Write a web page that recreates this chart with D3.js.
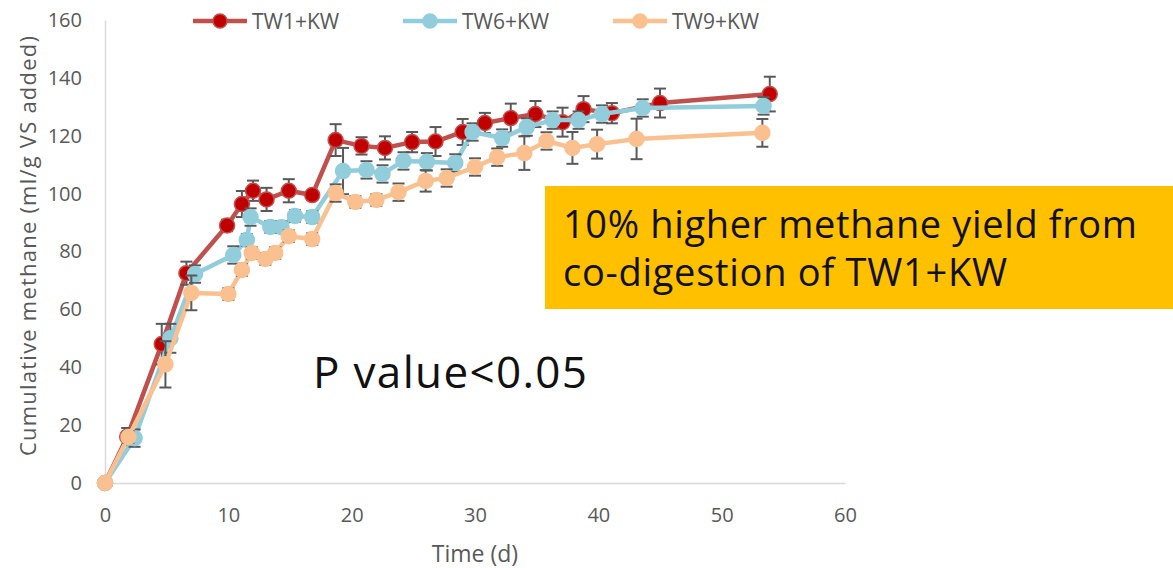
<!DOCTYPE html>
<html>
<head>
<meta charset="utf-8">
<script src="https://cdn.jsdelivr.net/npm/d3@7"></script>
<style>
  body { margin: 0; background: #fff; }
  svg { display: block; }
</style>
</head>
<body>
<svg width="1173" height="568"></svg>
<script>
// series names and colours
let seriesNames = ["TW1+KW", "TW6+KW", "TW9+KW"];

// days, cumulative methane (ml/g VS added) and standard error
let tw1Days = [0, 1.8, 4.6, 6.6, 9.9, 11.1, 12.0, 13.1, 14.9, 16.8, 18.7, 20.8, 22.7, 24.9, 26.8, 29.0, 30.8, 32.9, 34.9, 37.1, 38.8, 41.1, 45.0, 53.9];
let tw1Vals = [0, 16, 48, 72.5, 89, 96.4, 101, 98, 101, 99.5, 118.5, 116.5, 115.8, 117.8, 118, 121.3, 124.4, 126.1, 127.5, 124.7, 129.2, 127.8, 131.3, 134.4];
let tw1Err  = [0, 3, 7, 4, 2, 4.5, 3.5, 4, 4, 1.5, 5.5, 3, 4, 3.5, 5, 4.5, 3.5, 5, 4.5, 5, 4.5, 3.5, 5, 6];

let tw6Days = [0, 2.4, 5.3, 7.3, 10.4, 11.5, 11.8, 13.4, 14.3, 15.4, 16.8, 19.3, 21.2, 22.5, 24.2, 26.1, 28.4, 29.8, 32.2, 34.2, 36.3, 38.4, 40.3, 43.6, 53.4];
let tw6Vals = [0, 15.5, 50, 72.2, 78.8, 84, 91.9, 88.5, 88.4, 92.3, 91.9, 107.8, 108.2, 106.8, 111.3, 111, 110.6, 121.3, 119.2, 123, 125.4, 125.4, 127.5, 129.6, 130.3];
let tw6Err  = [0, 3, 5, 3, 3, 2, 3, 2, 2, 2, 2, 8, 3, 3, 3, 3, 3, 3, 3, 3, 3, 3, 3, 3, 3];

let tw9Days = [0, 1.9, 4.9, 7.0, 10.0, 11.1, 11.9, 13.0, 13.8, 14.9, 16.8, 18.7, 20.3, 22.0, 23.8, 26.0, 27.7, 30.0, 31.8, 34.0, 35.8, 37.9, 39.9, 43.1, 53.3];
let tw9Vals = [0, 15.9, 41, 65.7, 65.3, 73.6, 79.5, 77.4, 79.5, 85.3, 84.3, 100.2, 97.1, 97.8, 100.5, 104.4, 105.4, 109.2, 112.6, 114, 118.2, 115.8, 117.1, 118.9, 121];
let tw9Err  = [0, 2, 8, 6, 2, 2, 2, 2, 2, 2, 2, 3, 2, 2, 3, 3.7, 3, 3, 3, 5.8, 3, 5.5, 5, 7, 4.8];

let xTicks = [0, 10, 20, 30, 40, 50, 60];
let yTicks = [0, 20, 40, 60, 80, 100, 120, 140, 160];

let series = [
  {name: seriesNames[0], line: "#C0504D", fill: "#C00000", stroke: "#C0504D", days: tw1Days, vals: tw1Vals, err: tw1Err},
  {name: seriesNames[1], line: "#92CDDC", fill: "#92CDDC", stroke: "#92CDDC", days: tw6Days, vals: tw6Vals, err: tw6Err},
  {name: seriesNames[2], line: "#FAC090", fill: "#FAC090", stroke: "#FAC090", days: tw9Days, vals: tw9Vals, err: tw9Err}
];

let svg = d3.select("svg");
let axisFont = "'Open Sans', sans-serif";
let grey = "#595959";

let x = d3.scaleLinear().domain([0, 60]).range([105, 845]);
let y = d3.scaleLinear().domain([0, 160]).range([483, 20]);

// axes
let xAxis = svg.append("g")
  .attr("transform", "translate(0," + y(0) + ")")
  .call(d3.axisBottom(x).tickValues(xTicks).tickSize(0).tickPadding(25));
let yAxis = svg.append("g")
  .attr("transform", "translate(" + x(0) + ",0)")
  .call(d3.axisLeft(y).tickValues(yTicks).tickSize(0).tickPadding(23));

[xAxis, yAxis].forEach(a => {
  a.select(".domain").attr("stroke", "#D9D9D9").attr("stroke-width", 1.5);
  a.selectAll("text").attr("fill", grey).style("font-size", "20px").style("font-family", axisFont);
});

svg.append("text")
  .attr("x", 475).attr("y", 562)
  .attr("text-anchor", "middle")
  .attr("fill", grey)
  .style("font-size", "23px").style("font-family", axisFont)
  .text("Time (d)");

svg.append("text")
  .attr("transform", "translate(36,246) rotate(-90)")
  .attr("text-anchor", "middle")
  .attr("fill", grey)
  .attr("textLength", 420)
  .style("font-size", "22px").style("font-family", axisFont)
  .text("Cumulative methane (ml/g VS added)");

// series
let line = d3.line().x(d => x(d.t)).y(d => y(d.v));

series.forEach(s => {
  let pts = s.days.map((t, i) => ({t: t, v: s.vals[i], e: s.err[i]}));
  let g = svg.append("g");

  g.append("path")
    .datum(pts)
    .attr("d", line)
    .attr("fill", "none")
    .attr("stroke", s.line)
    .attr("stroke-width", 4.5)
    .attr("stroke-linejoin", "round");

  let eb = g.selectAll(".eb")
    .data(pts.filter(d => d.e > 0))
    .enter().append("g")
    .attr("stroke", grey)
    .attr("stroke-width", 2);
  eb.append("line")
    .attr("x1", d => x(d.t)).attr("x2", d => x(d.t))
    .attr("y1", d => y(d.v - d.e)).attr("y2", d => y(d.v + d.e));
  eb.append("line")
    .attr("x1", d => x(d.t) - 6).attr("x2", d => x(d.t) + 6)
    .attr("y1", d => y(d.v + d.e)).attr("y2", d => y(d.v + d.e));
  eb.append("line")
    .attr("x1", d => x(d.t) - 6).attr("x2", d => x(d.t) + 6)
    .attr("y1", d => y(d.v - d.e)).attr("y2", d => y(d.v - d.e));

  g.selectAll("circle")
    .data(pts)
    .enter().append("circle")
    .attr("cx", d => x(d.t))
    .attr("cy", d => y(d.v))
    .attr("r", 7.5)
    .attr("fill", s.fill)
    .attr("stroke", s.stroke)
    .attr("stroke-width", 1.5);
});

// legend
let legendX = [193, 403, 613];
series.forEach((s, i) => {
  let lg = svg.append("g").attr("transform", "translate(" + legendX[i] + ",21)");
  lg.append("line")
    .attr("x1", 0).attr("x2", 54)
    .attr("stroke", s.line).attr("stroke-width", 4.5);
  lg.append("circle")
    .attr("cx", 27).attr("r", 7)
    .attr("fill", s.fill).attr("stroke", s.stroke).attr("stroke-width", 1.5);
  lg.append("text")
    .attr("x", 59).attr("y", 8)
    .attr("fill", grey)
    .style("font-size", "21px").style("font-family", axisFont)
    .text(s.name);
});

// annotations
svg.append("rect")
  .attr("x", 545).attr("y", 186)
  .attr("width", 628).attr("height", 123)
  .attr("fill", "#FFC000");

let noteFont = "'Open Sans', sans-serif";
let note = svg.append("text")
  .attr("fill", "#111")
  .style("font-size", "38px").style("font-family", noteFont);
note.append("tspan").attr("x", 563).attr("y", 238).attr("textLength", 574).text("10% higher methane yield from");
note.append("tspan").attr("x", 563).attr("y", 286).attr("textLength", 444).text("co-digestion of TW1+KW");

svg.append("text")
  .attr("x", 313).attr("y", 388)
  .attr("fill", "#111")
  .attr("textLength", 274)
  .style("font-size", "44px").style("font-family", noteFont)
  .text("P value<0.05");
</script>
</body>
</html>
